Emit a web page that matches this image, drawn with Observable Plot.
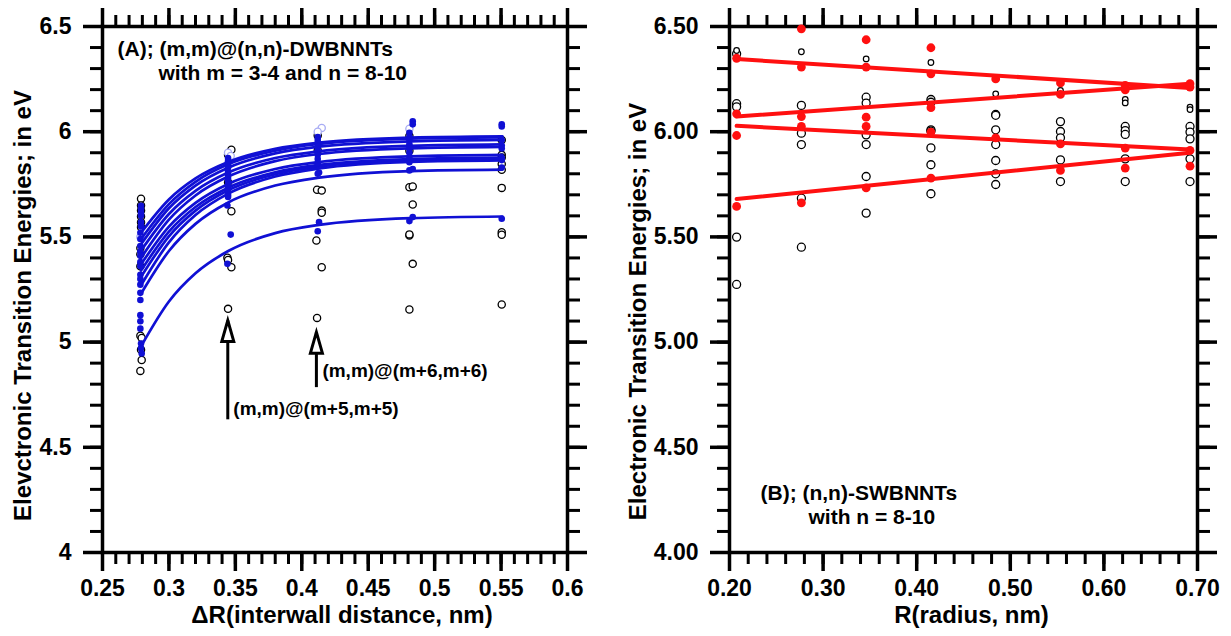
<!DOCTYPE html>
<html><head><meta charset="utf-8">
<script src="https://cdn.jsdelivr.net/npm/d3@7"></script>
<script src="https://cdn.jsdelivr.net/npm/@observablehq/plot@0.6"></script>
<style>
body{margin:0;background:#fff;}
#wrap{display:flex;width:1231px;height:636px;overflow:hidden;}
</style></head><body><div id="wrap"></div>
<script>
// ================= Panel A : DWBNNTs =================
const dwXTicks = [0.25, 0.3, 0.35, 0.4, 0.45, 0.5, 0.55, 0.6];
const dwYTicks = [4, 4.5, 5, 5.5, 6, 6.5];
const dwCurveX = [0.279, 0.30, 0.32, 0.345, 0.38, 0.413, 0.482, 0.551];
const dwCurves = [
  [5.520, 5.678, 5.778, 5.857, 5.919, 5.948, 5.972, 5.978],
  [5.490, 5.656, 5.762, 5.846, 5.910, 5.942, 5.967, 5.973],
  [5.465, 5.636, 5.744, 5.830, 5.897, 5.929, 5.954, 5.961],
  [5.435, 5.609, 5.719, 5.807, 5.875, 5.907, 5.933, 5.940],
  [5.400, 5.582, 5.697, 5.788, 5.860, 5.894, 5.921, 5.928],
  [5.370, 5.549, 5.662, 5.753, 5.823, 5.856, 5.883, 5.890],
  [5.340, 5.525, 5.642, 5.735, 5.807, 5.842, 5.870, 5.877],
  [5.310, 5.503, 5.625, 5.723, 5.798, 5.834, 5.863, 5.871],
  [5.270, 5.474, 5.604, 5.707, 5.787, 5.825, 5.856, 5.863],
  [5.230, 5.433, 5.562, 5.665, 5.744, 5.782, 5.813, 5.820],
  [4.980, 5.193, 5.327, 5.434, 5.518, 5.557, 5.589, 5.597]
];
const dwFilled = [
  [0.2790,5.648],[0.2790,5.632],[0.2790,5.615],[0.2790,5.600],[0.2790,5.570],[0.2790,5.550],
  [0.2785,5.520],[0.2785,5.490],[0.2785,5.457],[0.2785,5.430],[0.2785,5.410],[0.2785,5.380],
  [0.2785,5.360],[0.2785,5.320],[0.2785,5.300],[0.2785,5.273],[0.2785,5.234],[0.2785,5.200],
  [0.2785,5.128],[0.2785,5.099],[0.2785,5.064],[0.2790,4.993],[0.2790,4.970],[0.2795,4.946],
  [0.3445,5.875],[0.3445,5.860],[0.3445,5.845],[0.3445,5.830],[0.3445,5.810],[0.3445,5.795],
  [0.3445,5.780],[0.3445,5.765],[0.3445,5.750],[0.3445,5.735],[0.3445,5.720],[0.3445,5.700],
  [0.3445,5.690],[0.3440,5.649],[0.3465,5.511],[0.3440,5.372],
  [0.4120,5.975],[0.4120,5.960],[0.4120,5.945],[0.4120,5.930],[0.4120,5.910],[0.4120,5.890],
  [0.4120,5.870],[0.4120,5.850],[0.4130,5.806],[0.4120,5.800],[0.4130,5.570],[0.4120,5.527],
  [0.4835,6.050],[0.4835,6.035],[0.4810,5.995],[0.4810,5.975],[0.4810,5.960],[0.4810,5.940],
  [0.4810,5.920],[0.4810,5.900],[0.4810,5.875],[0.4810,5.855],[0.4835,5.823],[0.4810,5.816],
  [0.4835,5.594],[0.4810,5.575],
  [0.5505,6.035],[0.5505,6.025],[0.5505,5.960],[0.5505,5.934],[0.5505,5.920],[0.5505,5.876],
  [0.5505,5.865],[0.5505,5.830],[0.5505,5.586]
];
const dwOpen = [
  [0.2790,5.681],[0.2790,5.649],[0.2790,5.625],[0.2790,5.597],[0.2790,5.570],[0.2790,5.546],
  [0.2785,5.447],[0.2785,5.418],[0.2785,5.360],[0.2785,5.030],[0.2795,5.020],[0.2790,4.964],
  [0.2795,4.915],[0.2785,4.863],
  [0.3470,5.914],[0.3445,5.890],[0.3445,5.760],[0.3470,5.622],[0.3440,5.401],[0.3445,5.390],
  [0.3470,5.356],[0.3445,5.158],
  [0.4120,5.982],[0.4120,5.911],[0.4115,5.724],[0.4150,5.720],[0.4150,5.625],[0.4150,5.615],
  [0.4110,5.483],[0.4150,5.356],[0.4115,5.115],
  [0.4810,5.980],[0.4810,5.910],[0.4810,5.736],[0.4835,5.740],[0.4835,5.654],[0.4810,5.507],
  [0.4810,5.512],[0.4835,5.372],[0.4810,5.155],
  [0.5505,5.961],[0.5505,5.890],[0.5505,5.877],[0.5505,5.847],[0.5505,5.819],[0.5505,5.733],
  [0.5505,5.522],[0.5505,5.510],[0.5505,5.179]
];
const dwPale = [[0.2785,5.500],[0.3445,5.900],[0.3465,5.885],[0.4150,6.018],[0.4120,6.000],[0.4810,6.014]];
const dwArrowX = [0.3443, 0.411];
const dwArrowTip = [5.103, 5.047];
const dwArrowBase = [4.633, 4.786];
const dwArrowLabels = ["(m,m)@(m+5,m+5)", "(m,m)@(m+6,m+6)"];
const dwArrowLabelX = [0.3485, 0.4155];
const dwArrowLabelY = [4.682, 4.862];
const dwNotes = ["(A); (m,m)@(n,n)-DWBNNTs", "with m = 3-4 and n = 8-10"];
const dwNoteX = [0.2613, 0.2921];
const dwNoteY = [6.391, 6.277];

// ================= Panel B : SWBNNTs =================
const swXTicks = [0.2, 0.3, 0.4, 0.5, 0.6, 0.7];
const swYTicks = [4, 4.5, 5, 5.5, 6, 6.5];
const swX = [0.2076, 0.2768, 0.346, 0.4152, 0.4844, 0.5536, 0.6228, 0.692];
const swFilled = [
  [6.349, 6.085, 5.982, 5.645],
  [6.489, 6.307, 6.072, 6.025, 5.662],
  [6.437, 6.307, 6.069, 6.025, 5.733],
  [6.399, 6.275, 6.114, 5.998, 5.779],
  [6.251, 5.971],
  [6.232, 6.177, 5.942, 5.816],
  [6.220, 6.199, 5.922, 5.827],
  [6.228, 6.212, 5.911, 5.836]
];
const swOpen = [
  [6.370, 6.133, 6.118, 5.499, 5.274],
  [6.125, 5.993, 5.939, 5.684, 5.451],
  [6.164, 6.136, 5.985, 5.939, 5.787, 5.613],
  [6.153, 6.140, 6.009, 6.003, 5.923, 5.843, 5.705],
  [6.082, 6.078, 6.009, 5.939, 5.863, 5.800, 5.749],
  [6.048, 6.001, 5.971, 5.866, 5.763],
  [6.025, 6.005, 5.987, 5.871, 5.763],
  [6.025, 5.998, 5.966, 5.871, 5.763]
];
const swOpenSmall = [
  [6.386], [6.380, 6.306], [6.346], [6.329], [6.180], [6.196], [6.153, 6.137], [6.117, 6.105]
];
const swLineX = [0.2076, 0.692];
const swLines = [[6.345, 6.208], [6.072, 6.228], [6.028, 5.915], [5.680, 5.900]];
const swNotes = ["(B); (n,n)-SWBNNTs", "with n = 8-10"];
const swNoteX = [0.2331, 0.2844];
const swNoteY = [4.280, 4.166];

// ================= helpers =================
const FONT = "'Liberation Sans', Arial, Helvetica, sans-serif";
const BLUE = "#1010d4";
const RED = "#ff1010";
const arrowHead = {
  draw(ctx) { ctx.moveTo(0, 0); ctx.lineTo(6, 21); ctx.lineTo(-6, 21); ctx.closePath(); }
};
function frameAxes(xMajor, xMinor, yMajor, yMinor, xFmt, yFmt) {
  const common = {label: null, stroke: "black", fontSize: 23, fontWeight: "bold", fill: "black"};
  const none = () => "";
  return [
    Plot.axisX(xMajor, {...common, anchor: "bottom", tickSize: 19, tickPadding: 8, strokeWidth: 3.5, tickFormat: xFmt}),
    Plot.axisX(xMinor, {...common, anchor: "bottom", tickSize: 12, tickPadding: 2, strokeWidth: 3, tickFormat: none}),
    Plot.axisX(xMajor, {...common, anchor: "top", tickSize: 19, tickPadding: 2, strokeWidth: 3.5, tickFormat: none}),
    Plot.axisX(xMinor, {...common, anchor: "top", tickSize: 12, tickPadding: 2, strokeWidth: 3, tickFormat: none}),
    Plot.axisY(yMajor, {...common, anchor: "left", tickSize: 19, tickPadding: 12, strokeWidth: 3.5, tickFormat: yFmt}),
    Plot.axisY(yMinor, {...common, anchor: "left", tickSize: 12, tickPadding: 2, strokeWidth: 3, tickFormat: none}),
    Plot.axisY(yMajor, {...common, anchor: "right", tickSize: 19, tickPadding: 2, strokeWidth: 3.5, tickFormat: none}),
    Plot.axisY(yMinor, {...common, anchor: "right", tickSize: 12, tickPadding: 2, strokeWidth: 3, tickFormat: none}),
    Plot.frame({stroke: "black", strokeWidth: 3.5})
  ];
}

// ---------- Panel A ----------
const curveRows = dwCurves.flatMap((ys, k) => ys.map((y, i) => ({x: dwCurveX[i], y, k})));
const arrows = dwArrowX.map((x, i) => ({x, tip: dwArrowTip[i], base: dwArrowBase[i]}));
const arrowLab = dwArrowLabels.map((t, i) => ({t, x: dwArrowLabelX[i], y: dwArrowLabelY[i]}));
const notesA = dwNotes.map((t, i) => ({t, x: dwNoteX[i], y: dwNoteY[i]}));

const plotA = Plot.plot({
  width: 615, height: 636,
  marginLeft: 102, marginRight: 48, marginTop: 26, marginBottom: 84,
  style: {fontFamily: FONT, background: "white", overflow: "visible"},
  x: {domain: [0.25, 0.6]},
  y: {domain: [4, 6.5]},
  marks: [
    ...frameAxes(dwXTicks, d3.range(0.25, 0.6001, 0.01), dwYTicks, d3.range(4, 6.5001, 0.1), d3.format("~g"), d3.format("~g")),
    Plot.dot(dwOpen, {x: d => d[0], y: d => d[1], r: 3.6, stroke: "black", strokeWidth: 1.3, fill: "white"}),
    Plot.dot(dwPale, {x: d => d[0], y: d => d[1], r: 3.6, stroke: "#a8acf4", strokeWidth: 1.3, fill: "white"}),
    Plot.line(curveRows, {x: "x", y: "y", z: "k", curve: "monotone-x", stroke: BLUE, strokeWidth: 2.7}),
    Plot.dot(dwFilled, {x: d => d[0], y: d => d[1], r: 3.3, fill: BLUE}),
    Plot.link(arrows, {x1: "x", x2: "x", y1: "base", y2: "tip", stroke: "black", strokeWidth: 3}),
    Plot.dot(arrows, {x: "x", y: "tip", symbol: arrowHead, r: 5, fill: "white", stroke: "black", strokeWidth: 3}),
    Plot.text(arrowLab, {x: "x", y: "y", text: "t", textAnchor: "start", fontSize: 19, fontWeight: "bold", fill: "black"}),
    Plot.text(notesA, {x: "x", y: "y", text: "t", textAnchor: "start", fontSize: 21, fontWeight: "bold", fill: "black"}),
    Plot.text(["ΔR(interwall distance, nm)"], {frameAnchor: "bottom", lineAnchor: "middle", textAnchor: "middle", dy: 63, dx: 7, fontSize: 24, fontWeight: "bold", fill: "black"}),
    Plot.text(["Elevctronic Transition Energies; in eV"], {frameAnchor: "left", textAnchor: "middle", lineAnchor: "middle", rotate: -90, dx: -79, dy: 16, fontSize: 24, fontWeight: "bold", fill: "black"})
  ]
});

// ---------- Panel B ----------
const swFilledRows = swFilled.flatMap((ys, i) => ys.map(y => ({x: swX[i], y})));
const swOpenRows = swOpen.flatMap((ys, i) => ys.map(y => ({x: swX[i], y})));
const swSmallRows = swOpenSmall.flatMap((ys, i) => ys.map(y => ({x: swX[i], y})));
const swLineRows = swLines.flatMap((ys, k) => ys.map((y, i) => ({x: swLineX[i], y, k})));
const notesB = swNotes.map((t, i) => ({t, x: swNoteX[i], y: swNoteY[i]}));

const plotB = Plot.plot({
  width: 616, height: 636,
  marginLeft: 114, marginRight: 34, marginTop: 26, marginBottom: 84,
  style: {fontFamily: FONT, background: "white", overflow: "visible"},
  x: {domain: [0.2, 0.7]},
  y: {domain: [4, 6.5]},
  marks: [
    ...frameAxes(swXTicks, d3.range(0.2, 0.7001, 0.02), swYTicks, d3.range(4, 6.5001, 0.1), d3.format(".2f"), d3.format(".2f")),
    Plot.dot(swOpenRows, {x: "x", y: "y", r: 4, stroke: "black", strokeWidth: 1.3, fill: "white"}),
    Plot.dot(swSmallRows, {x: "x", y: "y", r: 2.8, stroke: "black", strokeWidth: 1.2, fill: "white"}),
    Plot.line(swLineRows, {x: "x", y: "y", z: "k", stroke: RED, strokeWidth: 4}),
    Plot.dot(swFilledRows, {x: "x", y: "y", r: 4.4, fill: RED}),
    Plot.text(notesB, {x: "x", y: "y", text: "t", textAnchor: "start", fontSize: 21, fontWeight: "bold", fill: "black"}),
    Plot.text(["R(radius, nm)"], {frameAnchor: "bottom", lineAnchor: "middle", textAnchor: "middle", dy: 63, dx: 8, fontSize: 24, fontWeight: "bold", fill: "black"}),
    Plot.text(["Electronic Transition Energies; in eV"], {frameAnchor: "left", textAnchor: "middle", lineAnchor: "middle", rotate: -90, dx: -91, dy: 22, fontSize: 24, fontWeight: "bold", fill: "black"})
  ]
});

const wrap = document.getElementById("wrap");
wrap.appendChild(plotA);
wrap.appendChild(plotB);
</script></body></html>
